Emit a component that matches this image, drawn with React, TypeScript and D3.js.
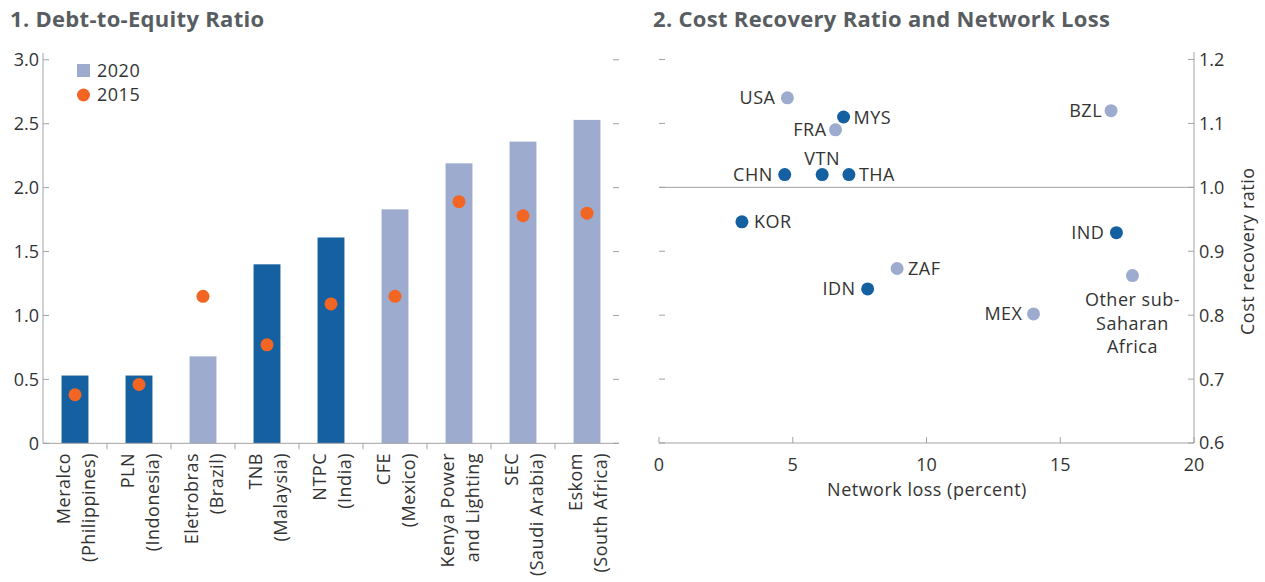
import React, { useEffect } from 'react';
import * as d3 from 'd3';

// Panel 1: debt-to-equity
const utilities = [
  'Meralco|(Philippines)',
  'PLN|(Indonesia)',
  'Eletrobras|(Brazil)',
  'TNB|(Malaysia)',
  'NTPC|(India)',
  'CFE|(Mexico)',
  'Kenya Power|and Lighting',
  'SEC|(Saudi Arabia)',
  'Eskom|(South Africa)',
];
const ratio2020 = [0.53, 0.53, 0.68, 1.4, 1.61, 1.83, 2.19, 2.36, 2.53];
const ratio2015 = [0.38, 0.46, 1.15, 0.77, 1.09, 1.15, 1.89, 1.78, 1.8];
const darkBar = [true, true, false, true, true, false, false, false, false];
const debtTicks = [0, 0.5, 1, 1.5, 2, 2.5, 3];

// Panel 2: cost recovery vs network loss
const countries = ['USA', 'MYS', 'FRA', 'BZL', 'CHN', 'VTN', 'THA', 'KOR', 'IND', 'ZAF', 'IDN', 'MEX', 'Other sub-|Saharan|Africa'];
const networkLoss = [4.8, 6.9, 6.6, 16.9, 4.7, 6.1, 7.1, 3.1, 17.1, 8.9, 7.8, 14.0, 17.7];
const costRecovery = [1.14, 1.11, 1.09, 1.12, 1.02, 1.02, 1.02, 0.946, 0.929, 0.873, 0.841, 0.802, 0.862];
const darkDot = [false, true, false, false, true, true, true, true, true, false, true, false, false];
const lossTicks = [0, 5, 10, 15, 20];
const recoveryTicks = [0.6, 0.7, 0.8, 0.9, 1.0, 1.1, 1.2];

const DARK = '#1560a0';
const LIGHT = '#9dabcf';
const ORANGE = '#f26522';
const AXIS = '#a3a3a3';
const TEXT = '#333';
const TITLE = '#585d62';
const FONT = '"Open Sans", Lato, sans-serif';
const FS = 18;
const LS = 0.5;

// label placement: side and offsets
const labelPos: Record<string, { dx: number; dy: number; anchor: string }> = {
  USA: { dx: -12, dy: 0, anchor: 'end' },
  MYS: { dx: 10, dy: 0, anchor: 'start' },
  FRA: { dx: -9, dy: 0, anchor: 'end' },
  BZL: { dx: -9, dy: 0, anchor: 'end' },
  CHN: { dx: -12, dy: 0, anchor: 'end' },
  VTN: { dx: 0, dy: -16, anchor: 'middle' },
  THA: { dx: 10, dy: 0, anchor: 'start' },
  KOR: { dx: 12, dy: 0, anchor: 'start' },
  IND: { dx: -12, dy: 0, anchor: 'end' },
  ZAF: { dx: 11, dy: 0, anchor: 'start' },
  IDN: { dx: -12, dy: 0, anchor: 'end' },
  MEX: { dx: -11, dy: 0, anchor: 'end' },
  'Other sub-|Saharan|Africa': { dx: 0, dy: 24, anchor: 'middle' },
};

const DebtPanel = () => {
  const x = d3.scaleBand().domain(utilities).range([43, 619]).paddingInner(0.58).paddingOuter(0.29);
  const y = d3.scaleLinear().domain([0, 3]).range([443.3, 59.8]);
  const step = x.step();
  return (
    <g>
      <text x={10} y={27} fontSize={22} fontWeight={700} letterSpacing={0.3} fill={TITLE}>1. Debt-to-Equity Ratio</text>
      {/* axes */}
      <line x1={43} x2={43} y1={y(0)} y2={53} stroke={AXIS} />
      {debtTicks.map(t => (
        <g key={t}>
          <line x1={43} x2={49} y1={y(t)} y2={y(t)} stroke={AXIS} />
          <line x1={613} x2={619} y1={y(t)} y2={y(t)} stroke={AXIS} />
          <text x={39} y={y(t)} dy="0.36em" textAnchor="end" fontSize={FS} fill={TEXT}>
            {t === 0 ? '0' : d3.format('.1f')(t)}
          </text>
        </g>
      ))}
      {utilities.map((u, i) => (
        <rect key={u} x={x(u)} y={y(ratio2020[i])} width={x.bandwidth()} height={y(0) - y(ratio2020[i])}
          fill={darkBar[i] ? DARK : LIGHT} />
      ))}
      {utilities.map((u, i) => (
        <circle key={u} cx={(x(u) || 0) + x.bandwidth() / 2} cy={y(ratio2015[i])} r={6.5} fill={ORANGE} />
      ))}
      <line x1={43} x2={619} y1={y(0)} y2={y(0)} stroke={AXIS} />
      {utilities.slice(1).map((u, i) => {
        const bx = 43 + step * (i + 1);
        return <line key={u} x1={bx} x2={bx} y1={y(0)} y2={y(0) + 6} stroke={AXIS} />;
      })}
      {utilities.map(u => {
        const cx = (x(u) || 0) + x.bandwidth() / 2;
        const lines = u.split('|');
        return (
          <g key={u} transform={`translate(${cx},453) rotate(-90)`}>
            {lines.map((l, j) => (
              <text key={j} x={0} y={j === 0 ? -12.5 : 12.5} dominantBaseline="central" textAnchor="end"
                fontSize={FS} letterSpacing={LS} fill={TEXT}>{l}</text>
            ))}
          </g>
        );
      })}
      {/* legend */}
      <rect x={77} y={64} width={13} height={13} fill={LIGHT} />
      <text x={97} y={70.5} dy="0.36em" fontSize={FS} letterSpacing={LS} fill={TEXT}>2020</text>
      <circle cx={83.5} cy={95} r={6.5} fill={ORANGE} />
      <text x={97} y={95} dy="0.36em" fontSize={FS} letterSpacing={LS} fill={TEXT}>2015</text>
    </g>
  );
};

const RecoveryPanel = () => {
  const x = d3.scaleLinear().domain([0, 20]).range([659, 1194]);
  const y = d3.scaleLinear().domain([0.6, 1.2]).range([443, 59.5]);
  return (
    <g>
      <text x={653} y={27} fontSize={22} fontWeight={700} letterSpacing={0.3} fill={TITLE}>2. Cost Recovery Ratio and Network Loss</text>
      <line x1={x(0)} x2={x(20)} y1={y(0.6)} y2={y(0.6)} stroke={AXIS} />
      <line x1={x(20)} x2={x(20)} y1={y(0.6)} y2={52} stroke={AXIS} />
      <line x1={x(0)} x2={x(20)} y1={y(1)} y2={y(1)} stroke={AXIS} />
      {lossTicks.map(t => (
        <g key={t}>
          <line x1={x(t)} x2={x(t)} y1={y(0.6)} y2={y(0.6) - 6} stroke={AXIS} />
          <text x={x(t)} y={471} textAnchor="middle" fontSize={FS} fill={TEXT}>{t}</text>
        </g>
      ))}
      {recoveryTicks.map(t => (
        <g key={t}>
          <line x1={x(0)} x2={x(0) + 6} y1={y(t)} y2={y(t)} stroke={AXIS} />
          <line x1={x(20) - 6} x2={x(20)} y1={y(t)} y2={y(t)} stroke={AXIS} />
          <text x={1199} y={y(t)} dy="0.36em" fontSize={FS} fill={TEXT}>{d3.format('.1f')(t)}</text>
        </g>
      ))}
      <text x={927} y={496} textAnchor="middle" fontSize={FS} letterSpacing={LS} fill={TEXT}>Network loss (percent)</text>
      <text transform={`translate(1247,${(y(0.6) + y(1.2)) / 2}) rotate(-90)`} textAnchor="middle"
        dominantBaseline="central" fontSize={FS} letterSpacing={LS} fill={TEXT}>Cost recovery ratio</text>
      {countries.map((c, i) => {
        const cx = x(networkLoss[i]);
        const cy = y(costRecovery[i]);
        const p = labelPos[c];
        const lines = c.split('|');
        return (
          <g key={c}>
            <circle cx={cx} cy={cy} r={6.5} fill={darkDot[i] ? DARK : LIGHT} />
            {lines.map((l, j) => (
              <text key={j} x={cx + p.dx} y={cy + p.dy + j * 23.5} dy="0.36em" textAnchor={p.anchor}
                fontSize={FS} letterSpacing={LS} fill={TEXT}>{l}</text>
            ))}
          </g>
        );
      })}
    </g>
  );
};

export default function App() {
  useEffect(() => {
    document.body.style.margin = '0';
  }, []);
  return (
    <svg width={1265} height={582} style={{ display: 'block', fontFamily: FONT, background: '#fff' }}>
      <DebtPanel />
      <RecoveryPanel />
    </svg>
  );
}
